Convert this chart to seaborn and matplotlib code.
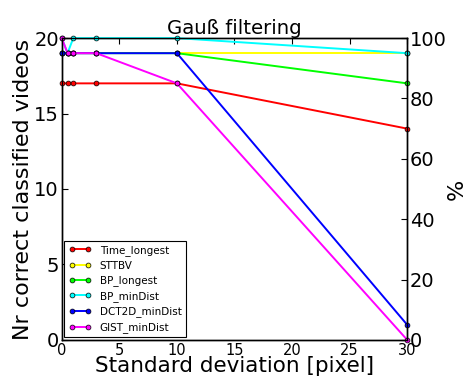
import matplotlib
matplotlib.use("Agg")
import matplotlib.pyplot as plt
import seaborn as sns
import pandas as pd

# Gaussian filter standard deviations (pixel)
sigma = [0, 0.5, 1, 3, 10, 30]

# Number of correctly classified videos per method
time_longest = [17, 17, 17, 17, 17, 14]
sttbv = [19, 19, 19, 19, 19, 19]
bp_longest = [19, 19, 19, 19, 19, 17]
bp_mindist = [20, 19, 20, 20, 20, 19]
dct2d_mindist = [19, 19, 19, 19, 19, 1]
gist_mindist = [20, 19, 19, 19, 17, 0]

methods = ["Time_longest", "STTBV", "BP_longest", "BP_minDist",
           "DCT2D_minDist", "GIST_minDist"]
series = [time_longest, sttbv, bp_longest, bp_mindist, dct2d_mindist, gist_mindist]
colors = ["#ff0000", "#ffff00", "#00ff00", "#00ffff", "#0000ff", "#ff00ff"]

total_videos = 20

sns.set_style("white")
plt.rcParams["font.family"] = ["DejaVu Sans"]
plt.rcParams.update({
    "text.color": "black",
    "axes.labelcolor": "black",
    "xtick.color": "black",
    "ytick.color": "black",
    "axes.edgecolor": "black",
})

fig = plt.figure(figsize=(4.68, 3.81), dpi=100)
ax = fig.add_axes([0.132, 0.108, 0.738, 0.792])

for name, vals, col in zip(methods, series, colors):
    df = pd.DataFrame({"sigma": sigma, "n": vals})
    sns.lineplot(data=df, x="sigma", y="n", ax=ax, color=col, label=name,
                 marker="o", markersize=3.5, markeredgecolor="black",
                 markeredgewidth=0.5, linewidth=1.4, clip_on=False, zorder=3)

ax.set_xlim(0, 30)
ax.set_ylim(0, total_videos)
ax.set_xticks([0, 5, 10, 15, 20, 25, 30])
ax.set_yticks([0, 5, 10, 15, 20])
ax.set_xlabel("Standard deviation [pixel]", fontsize=15.5, labelpad=-1)
ax.set_ylabel("Nr correct classified videos", fontsize=16, labelpad=1)
ax.set_title("Gauß filtering", fontsize=14.2, pad=2)
ax.tick_params(axis="x", labelsize=10.5, direction="in", top=True, length=4, pad=2)
ax.tick_params(axis="y", labelsize=14, direction="in", length=4, pad=2)
for sp in ax.spines.values():
    sp.set_color("black")
    sp.set_linewidth(1.0)

ax2 = ax.twinx()
ax2.set_ylim(0, 100)
ax2.set_yticks([0, 20, 40, 60, 80, 100])
ax2.set_ylabel("%", fontsize=16, labelpad=0)
ax2.tick_params(axis="y", labelsize=14, direction="in", length=4, pad=2)
for sp in ax2.spines.values():
    sp.set_color("black")
    sp.set_linewidth(1.0)

leg = ax.legend(loc="lower left", numpoints=2, fontsize=7.5, fancybox=False,
                edgecolor="black", framealpha=1, borderaxespad=0.25,
                handlelength=2.2, labelspacing=0.45)
leg.get_frame().set_linewidth(0.8)
for t in leg.get_texts():
    t.set_color("black")

fig.savefig("out.png", dpi=100)
